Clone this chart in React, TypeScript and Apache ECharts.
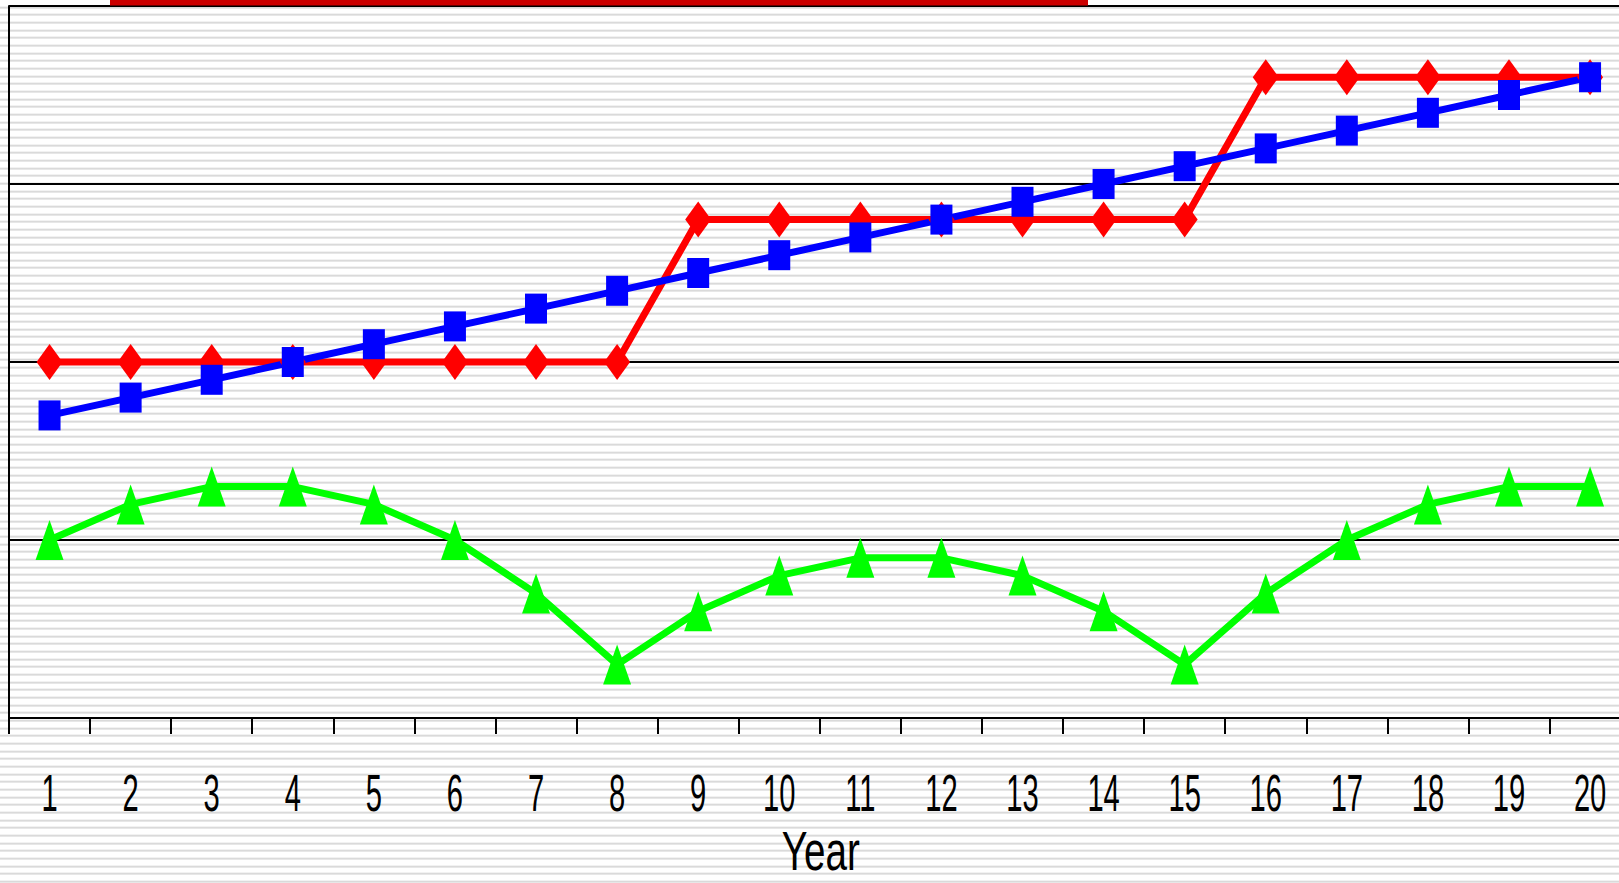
import React, { useEffect, useRef } from "react";
import * as echarts from "echarts";

const years = ["1","2","3","4","5","6","7","8","9","10","11","12","13","14","15","16","17","18","19","20"];
const redValues = [20,20,20,20,20,20,20,20,28,28,28,28,28,28,28,36,36,36,36,36];
const blueValues = [17,18,19,20,21,22,23,24,25,26,27,28,29,30,31,32,33,34,35,36];
const greenValues = [10,12,13,13,12,10,7,3,6,8,9,9,8,6,3,7,10,12,13,13];
const xAxisName = "Year";

const FONT = "'Liberation Sans', Arial, sans-serif";
const GRID_LEFT = 9;
const GRID_TOP = 6;
const GRID_WIDTH = 1621.6;
const GRID_HEIGHT = 712;

export default function App() {
  const ref = useRef<HTMLDivElement>(null);
  useEffect(() => {
    if (!ref.current) return;
    const chart = echarts.init(ref.current, undefined, { renderer: "svg" });
    chart.setOption({
      animation: false,
      backgroundColor: "transparent",
      grid: {
        left: GRID_LEFT,
        top: GRID_TOP,
        width: GRID_WIDTH,
        height: GRID_HEIGHT,
        containLabel: false,
        outerBoundsMode: "none",
      },
      xAxis: {
        type: "category",
        data: years,
        boundaryGap: true,
        axisLine: { show: true, lineStyle: { color: "#000", width: 2 } },
        axisTick: { show: true, length: 16, inside: false, lineStyle: { color: "#000", width: 2 } },
        axisLabel: { show: false },
        splitLine: { show: false },
      },
      yAxis: {
        type: "value",
        min: 0,
        max: 40,
        interval: 10,
        axisLine: { show: true, lineStyle: { color: "#000", width: 2 } },
        axisTick: { show: false },
        axisLabel: { show: false },
        splitLine: { show: true, lineStyle: { color: "#000", width: 2 } },
      },
      series: [
        {
          type: "line",
          data: redValues,
          symbol: "diamond",
          symbolSize: [26, 36],
          lineStyle: { color: "#ff0000", width: 7 },
          itemStyle: { color: "#ff0000" },
          emphasis: { disabled: true },
        },
        {
          type: "line",
          data: blueValues,
          symbol: "rect",
          symbolSize: [22, 30],
          lineStyle: { color: "#0000ff", width: 7 },
          itemStyle: { color: "#0000ff" },
          emphasis: { disabled: true },
        },
        {
          type: "line",
          data: greenValues,
          symbol: "triangle",
          symbolSize: [28, 40],
          lineStyle: { color: "#00ff00", width: 7 },
          itemStyle: { color: "#00ff00" },
          emphasis: { disabled: true },
        },
      ],
    });

    const axisBottom = chart.convertToPixel({ yAxisIndex: 0 }, 0) as number;
    const labels = years.map((y) => ({
      type: "text",
      x: chart.convertToPixel({ xAxisIndex: 0 }, y) as number,
      y: axisBottom + 75,
      scaleX: 0.56,
      style: {
        text: y,
        font: `52px ${FONT}`,
        fill: "#000",
        align: "center",
        verticalAlign: "middle",
      },
      z: 20,
    }));
    chart.setOption({
      graphic: [
        { type: "rect", shape: { x: 110, y: 0, width: 978, height: 5.5 }, style: { fill: "#cc0000" }, z: 10 },
        ...labels,
        {
          type: "text",
          x: GRID_LEFT + GRID_WIDTH / 2 + 1,
          y: axisBottom + 132,
          scaleX: 0.69,
          style: {
            text: xAxisName,
            font: `56px ${FONT}`,
            fill: "#000",
            align: "center",
            verticalAlign: "middle",
          },
          z: 20,
        },
      ],
    });
    return () => chart.dispose();
  }, []);
  return (
    <div
      ref={ref}
      style={{
        position: "fixed",
        left: 0,
        top: 0,
        width: 1619,
        height: 883,
        backgroundColor: "#ffffff",
        backgroundImage:
          "repeating-linear-gradient(to bottom, #ffffff 0px, #ffffff 5.67px, #dadada 5.67px, #dadada 7.67px)",
        backgroundPosition: "0px 0.66px",
      }}
    />
  );
}
